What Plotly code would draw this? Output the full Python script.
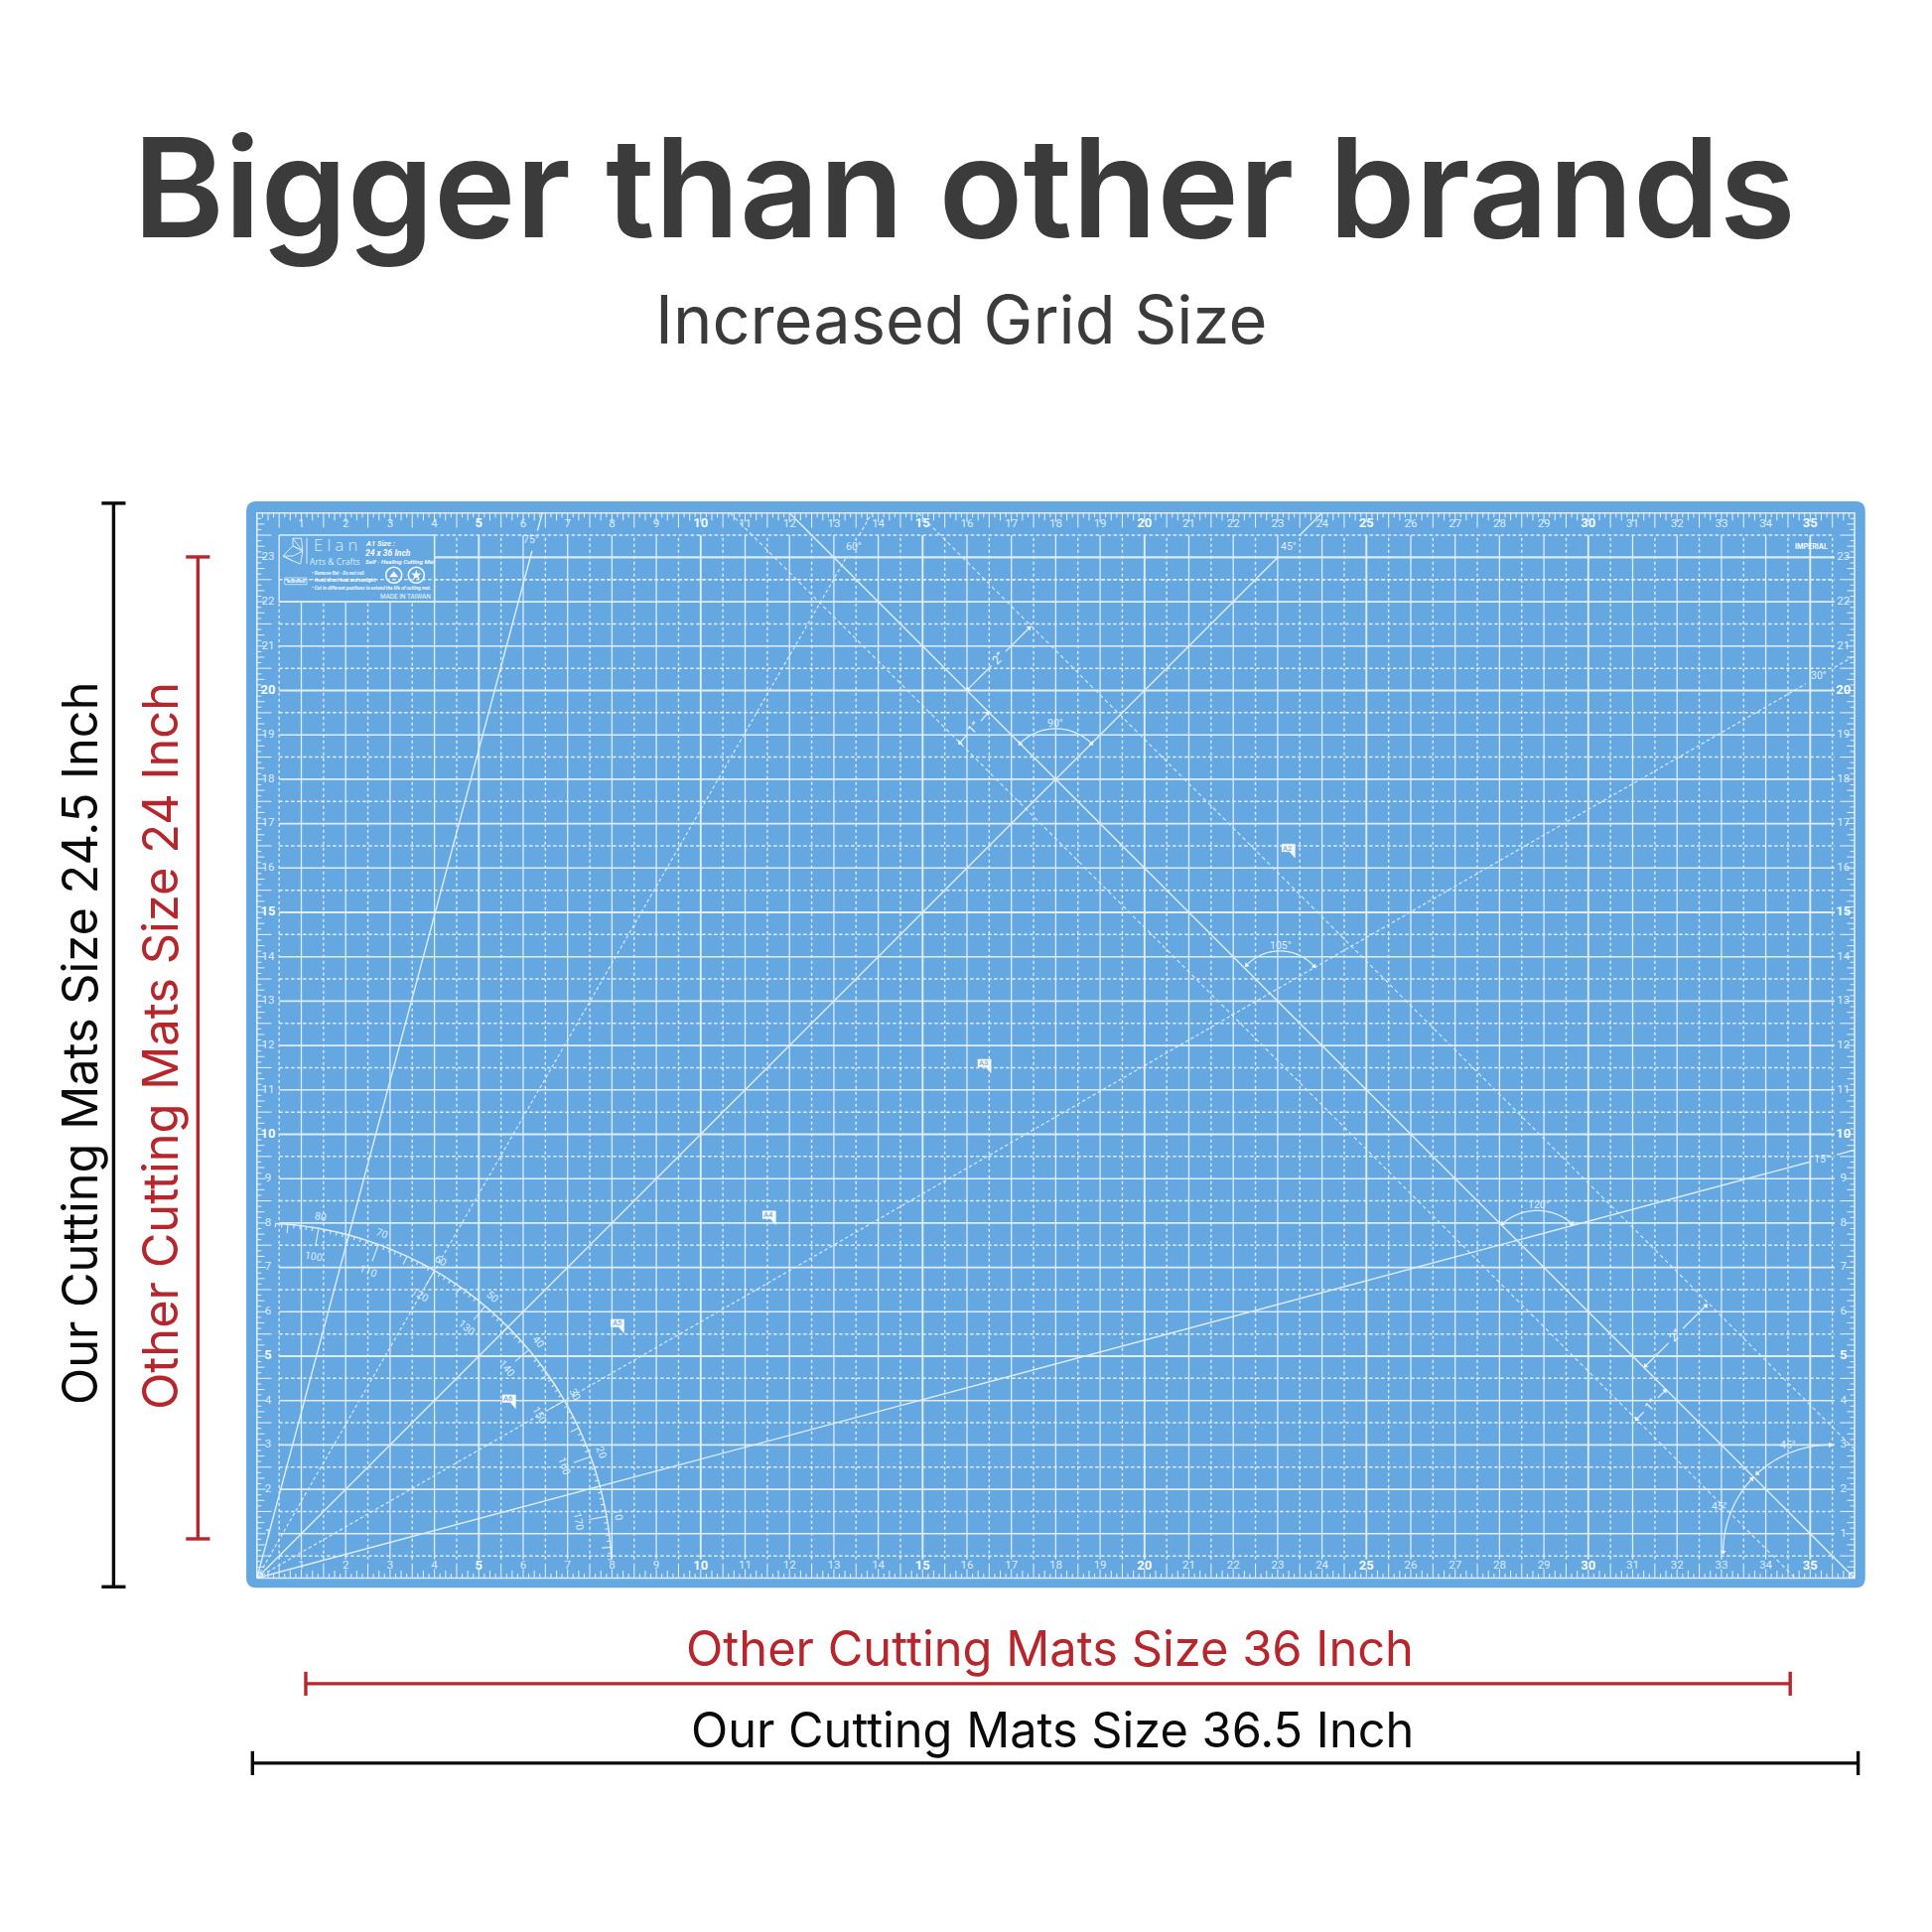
import math
import numpy as np
import plotly.graph_objects as go

# ---------- data (inches on the mat) ----------
mat_w = 36
mat_h = 24
inch_x = list(range(1, 36))
inch_y = list(range(1, 24))
half_x = [i + 0.5 for i in range(0, 36)]
half_y = [i + 0.5 for i in range(0, 24)]
bold_every = 5

ray_x = [[0, 6.2, 6.43], [0, 13.28, 13.86], [0, 23.0, 24.0], [0, 34.9, 36.0], [0, 35.0, 36.0]]
ray_y = [[0, 23.15, 24.0], [0, 23.0, 24.0], [0, 23.0, 24.0], [0, 20.15, 20.78], [0, 9.38, 9.65]]
ray_gap_end_x = [6.32, 13.57, 23.5, 35.55, 35.6]
ray_gap_end_y = [23.6, 23.5, 23.5, 20.52, 9.54]
ray_dashed = [False, True, False, True, False]
ray_labels = ["75°", "60°", "45°", "30°", "15°"]
ray_label_x = [6.19, 13.45, 23.25, 35.2, 35.27]
ray_label_y = [23.4, 23.25, 23.25, 20.34, 9.44]

anti_start_x = [12.0, 10.66, 14.9]
anti_start_y = [24, 24, 24]
anti_end_x = [36.0, 34.66, 36.0]
anti_end_y = [0, 0, 2.9]
anti_dashed = [False, True, True]

arc_cx = [18.0, 23.05, 28.85, 35.45, 35.45]
arc_cy = [18.0, 13.09, 7.09, 0.59, 0.59]
arc_r = [1.14, 1.04, 1.19, 2.41, 2.41]
arc_from = [45, 42, 49, 137, 90]
arc_to = [135, 136, 131, 180, 133]
angle_labels = ["90°", "105°", "120°", "45°", "45°"]
angle_label_x = [18.0, 23.07, 28.88, 32.95, 34.5]
angle_label_y = [19.27, 14.25, 8.42, 1.61, 2.99]

dim_x0 = [16.02, 15.84, 31.29, 31.09]
dim_y0 = [20.03, 18.82, 4.78, 3.58]
dim_x1 = [17.4, 16.47, 32.65, 31.73]
dim_y1 = [21.41, 19.49, 6.14, 4.22]
dim_labels = ["2”", "1”", "2”", "1”"]

paper_names = ["A2", "A3", "A4", "A5", "A6"]
paper_w = [23.39, 16.54, 11.69, 8.27, 5.83]
paper_h = [16.54, 11.69, 8.27, 5.83, 4.13]

proto_radius = 8
proto_degrees = list(range(3, 88))
proto_labels = [10, 20, 30, 40, 50, 60, 70, 80]

bird_x = [0.81, 1.0, 1.03, 0.81, 0.81, 1.03, 0.98, 0.81, 0.586, 0.81, 1.03, 0.81, 0.586, 0.81]
bird_y = [23.43, 23.43, 23.14, 23.26, 23.43, 23.14, 22.85, 22.92, 23.03, 23.26, 23.14, 23.03, 23.03, 22.92]

# dimension bars, in inches relative to the mat
black_v_x, black_v_y = [-3.23, -3.23], [-0.197, 24.22]
red_v_x, red_v_y = [-1.33, -1.33], [0.884, 23.01]
red_h_x, red_h_y = [1.10, 34.55], [-2.38, -2.38]
black_h_x, black_h_y = [-0.10, 36.08], [-4.17, -4.17]

# ---------- page mapping ----------
PPI = 44.7
X0, Y0 = 258.8, 1589.5
PAGE = 1946
def X(p): return (p - X0) / PPI
def Y(p): return (Y0 - p) / PPI

LINE = "#DDEDFB"
WHITE = "#F4FAFF"
MAT = "#65A7E1"
RED = "#B5272D"
BLACK = "#0A0A0A"
GREY = "#3B3B3B"
FONT = "Inter"
RULER_FONT = "Roboto"

fig = go.Figure()

def segs(x0s, y0s, x1s, y1s):
    xs, ys = [], []
    for a, b, c, d in zip(x0s, y0s, x1s, y1s):
        xs += [a, c, None]
        ys += [b, d, None]
    return xs, ys

def add_line(xs, ys, color=LINE, width=1.3, dash=None):
    fig.add_trace(go.Scatter(x=xs, y=ys, mode="lines", hoverinfo="skip",
                             line=dict(color=color, width=width, dash=dash, simplify=False)))

# --- frame ---
add_line([0, mat_w, mat_w, 0, 0], [0, 0, mat_h, mat_h, 0], width=1.6)

# --- logo block keeps the grid out of x<4, y>22 ---
def v_top(x): return 22 if x < 4 else 23.5
def h_start(y): return 4 if y > 22 else 0.5

thin_x = [x for x in inch_x if x % bold_every]
bold_x = [x for x in inch_x if not x % bold_every]
thin_y = [y for y in inch_y if y % bold_every]
bold_y = [y for y in inch_y if not y % bold_every]

xs, ys = segs(thin_x, [0.42] * len(thin_x), thin_x, [v_top(x) for x in thin_x])
add_line(xs, ys, width=1.3)
xs, ys = segs(bold_x, [0.42] * len(bold_x), bold_x, [v_top(x) for x in bold_x])
add_line(xs, ys, width=1.9)
xs, ys = segs([h_start(y) for y in thin_y], thin_y, [35.55] * len(thin_y), thin_y)
add_line(xs, ys, width=1.6)
xs, ys = segs([h_start(y) for y in bold_y], bold_y, [35.55] * len(bold_y), bold_y)
add_line(xs, ys, width=2.2)

xs, ys = segs(half_x, [0.42] * len(half_x), half_x, [v_top(x) for x in half_x])
add_line(xs, ys, width=1.4, dash="3px,3px")
hy = [y for y in half_y if y < 23]
xs, ys = segs([0.5] * len(hy), hy, [35.55] * len(hy), hy)
add_line(xs, ys, width=1.5, dash="3.5px,2.5px")
add_line([4, 35.55], [23.5, 23.5], width=1.5, dash="3.5px,2.5px")
add_line([4, 35.55], [22.5, 22.5], width=1.5, dash="3.5px,2.5px")

# --- logo box ---
add_line([0.5, 4, 4, 0.5, 0.5], [23.5, 23.5, 22, 22, 23.5], width=1.4)
add_line([4, 35.55], [23, 23], width=1.6)
add_line([1.123, 1.123], [22.85, 23.44], width=1)
add_line(bird_x, bird_y, width=1)

# --- ruler ticks ---
def tick_len(k):
    if k % 8 == 0: return 0.2
    if k % 4 == 0: return 0.33
    if k % 2 == 0: return 0.17
    return 0.1

tx, ty = [], []
for k in range(1, mat_w * 8):
    t = k / 8
    L = tick_len(k)
    tx += [t, t, None, t, t, None]
    ty += [0, L, None, mat_h, mat_h - L, None]
for k in range(1, mat_h * 8):
    t = k / 8
    L = tick_len(k)
    tx += [0, L, None, mat_w, mat_w - L, None]
    ty += [t, t, None, t, t, None]
add_line(tx, ty, width=1.1)

# --- ruler numbers ---
lab_x = inch_x + inch_x + [0.25] * len(inch_y) + [35.75] * len(inch_y)
lab_y = [0.27] * len(inch_x) + [23.75] * len(inch_x) + inch_y + inch_y
lab_t = [str(v) for v in inch_x + inch_x + inch_y + inch_y]
lab_b = [int(t) % bold_every == 0 for t in lab_t]
fig.add_trace(go.Scatter(
    x=lab_x, y=lab_y, text=lab_t, mode="text", hoverinfo="skip", textposition="middle center",
    textfont=dict(family=RULER_FONT, color=[WHITE if b else LINE for b in lab_b],
                  size=[13 if b else 11.5 for b in lab_b],
                  weight=[700 if b else 400 for b in lab_b])))

# --- rays from the origin ---
for rx, ry, gx, gy, d in zip(ray_x, ray_y, ray_gap_end_x, ray_gap_end_y, ray_dashed):
    xs = [rx[0], rx[1], None, gx, rx[2]]
    ys = [ry[0], ry[1], None, gy, ry[2]]
    add_line(xs, ys, width=1.1 if d else 1.4, dash="3.5px,2.5px" if d else None)

# --- anti-diagonals ---
for a, b, c, e, d in zip(anti_start_x, anti_start_y, anti_end_x, anti_end_y, anti_dashed):
    add_line([a, c], [b, e], width=1.1 if d else 1.5, dash="4px,3px" if d else None)

# --- arcs & arrows ---
arrow_x, arrow_y, arrow_a = [], [], []
for cx, cy, r, a0, a1 in zip(arc_cx, arc_cy, arc_r, arc_from, arc_to):
    th = np.radians(np.arange(a0, a1 + 1, 1.0))
    add_line((cx + r * np.cos(th)).tolist(), (cy + r * np.sin(th)).tolist(), width=1.3)
    arrow_x += [cx + r * math.cos(th[0]), cx + r * math.cos(th[-1])]
    arrow_y += [cy + r * math.sin(th[0]), cy + r * math.sin(th[-1])]
    arrow_a += [90 - (a0 - 90), 90 - (a1 + 90)]

annos = []
def note(text, x, y, size, color=LINE, family=RULER_FONT, weight=400, rot=0,
         xanchor="center", yanchor="middle", italic=False):
    annos.append(dict(text=text, x=x, y=y, xref="x", yref="y", showarrow=False, textangle=rot,
                      xanchor=xanchor, yanchor=yanchor, borderpad=0, align="center",
                      font=dict(family=family, size=size, color=color, weight=weight,
                                style="italic" if italic else "normal")))

for x0, y0, x1, y1, lab in zip(dim_x0, dim_y0, dim_x1, dim_y1, dim_labels):
    mx, my = (x0 + x1) / 2, (y0 + y1) / 2
    gap = 0.16
    add_line([x0, mx - gap, None, mx + gap, x1], [y0, my - gap, None, my + gap, y1], width=1.3)
    arrow_x += [x0, x1]
    arrow_y += [y0, y1]
    arrow_a += [225, 45]
    note(lab, mx, my, 12, rot=-45, color=WHITE)

fig.add_trace(go.Scatter(x=arrow_x, y=arrow_y, mode="markers", hoverinfo="skip",
                         marker=dict(symbol="triangle-up", size=5, color=WHITE, angle=arrow_a,
                                     line=dict(width=0))))

for t, x, y in zip(ray_labels + angle_labels, ray_label_x + angle_label_x, ray_label_y + angle_label_y):
    note(t, x, y, 10.5)

# --- protractor ---
th = np.radians(proto_degrees)
add_line((proto_radius * np.cos(th)).tolist(), (proto_radius * np.sin(th)).tolist(), width=1.5)
px_, py_ = [], []
for d in proto_degrees:
    L = 0.4 if d % 10 == 0 else 0.2 if d % 5 == 0 else 0.08
    c, s = math.cos(math.radians(d)), math.sin(math.radians(d))
    px_ += [proto_radius * c, (proto_radius - L) * c, None]
    py_ += [proto_radius * s, (proto_radius - L) * s, None]
add_line(px_, py_, width=1.1)
for d in proto_labels:
    c, s = math.cos(math.radians(d)), math.sin(math.radians(d))
    note(str(d), 8.27 * c, 8.27 * s, 10.5, rot=90 - d)
    note(str(180 - d), 7.36 * c, 7.36 * s, 10.5, rot=90 - d)

# --- paper size pennants ---
for name, w, h in zip(paper_names, paper_w, paper_h):
    fig.add_trace(go.Scatter(x=[w - 0.3, w, w, w - 0.12, w - 0.3], y=[h, h, h - 0.31, h - 0.17, h - 0.17],
                             mode="lines", fill="toself", fillcolor="#F6FBFF", hoverinfo="skip",
                             line=dict(color="#F6FBFF", width=0.5)))
    note(name, w - 0.16, h - 0.09, 7.5, color="#8FB4D8", weight=700)

# --- corner marks ---
fig.add_trace(go.Scatter(x=[0.06, 35.94], y=[0.06, 0.06], mode="markers", hoverinfo="skip",
                         marker=dict(symbol="circle-open", size=5, color=WHITE, line=dict(width=1))))

# --- logo text ---
note("E l a n", X(338), Y(548.5), 16.5, color=LINE, family="Open Sans", weight=300)
note("Arts &amp; Crafts", X(337), Y(565.5), 8.6, color=LINE, family="Open Sans")
note("A1 Size :", X(366.7), Y(547.5), 7.5, color=WHITE, weight=700, xanchor="left", italic=True)
note("24 x 36 Inch", X(366.7), Y(556.5), 8.5, color=WHITE, weight=700, xanchor="left", italic=True)
note("Self - Healing Cutting Mat", X(366.7), Y(566), 6.2, color=WHITE, weight=700, xanchor="left", italic=True)
note("• Remove flat - Do not roll.", X(312.7), Y(577), 4.7, color=WHITE, weight=700, xanchor="left", italic=True)
note("• Avoid direct heat and sunlight.", X(312.7), Y(584.7), 4.7, color=WHITE, weight=700, xanchor="left", italic=True)
note("• Cut in different positions to extend the life of cutting mat.", X(312.7), Y(592.3), 4.7,
     color=WHITE, weight=700, xanchor="left", italic=True)
note("MADE IN TAIWAN", X(435), Y(601), 6.4, xanchor="right", color=WHITE)
note("WARNING", X(298), Y(585.3), 4, color=WHITE, weight=700)
add_line([X(286.7), X(309), X(309), X(286.7), X(286.7)], [Y(582), Y(582), Y(588.7), Y(588.7), Y(582)], width=0.8)
fig.add_trace(go.Scatter(x=[X(396.7), X(419.3)], y=[Y(579.3), Y(579.3)], mode="markers", hoverinfo="skip",
                         marker=dict(symbol="circle-open", size=16, color=WHITE, line=dict(width=1.6))))
fig.add_trace(go.Scatter(x=[X(396.7), X(419.3)], y=[Y(579.3), Y(579.3)], mode="markers", hoverinfo="skip",
                         marker=dict(symbol=["triangle-up", "star"], size=8, color=WHITE)))
note("IMPERIAL", X(1824), Y(550), 7, color=WHITE, weight=700, family=FONT)

# --- dimension bars ---
CAP = 0.27
for bx, by, col in ((black_v_x, black_v_y, BLACK), (red_v_x, red_v_y, RED),
                    (red_h_x, red_h_y, RED), (black_h_x, black_h_y, BLACK)):
    add_line(bx, by, color=col, width=3.4)
    if bx[0] == bx[1]:
        add_line([bx[0] - CAP, bx[0] + CAP, None, bx[0] - CAP, bx[0] + CAP],
                 [by[0], by[0], None, by[1], by[1]], color=col, width=3.4)
    else:
        add_line([bx[0], bx[0], None, bx[1], bx[1]],
                 [by[0] - CAP, by[0] + CAP, None, by[0] - CAP, by[0] + CAP], color=col, width=3.4)

# --- page text ---
note("Bigger than other brands", X(971), Y(188), 139.5, color=GREY, family=FONT, weight=600)
note("Increased Grid Size", X(968), Y(321), 66.8, color=GREY, family=FONT)
note("Other Cutting Mats Size 36 Inch", X(1057), Y(1660.5), 48.8, color=RED, family=FONT)
note("Our Cutting Mats Size 36.5 Inch", X(1060), Y(1742), 48.7, color=BLACK, family=FONT)
note("Our Cutting Mats Size 24.5 Inch", X(80), Y(1051), 48.7, color=BLACK, family=FONT, rot=-90)
note("Other Cutting Mats Size 24 Inch", X(161), Y(1054), 48.8, color=RED, family=FONT, rot=-90)

# --- mat ---
r = 0.22
L, R, B, T = -0.24, 36.24, -0.22, 24.26
mat_path = (f"M {L+r},{B} L {R-r},{B} Q {R},{B} {R},{B+r} L {R},{T-r} Q {R},{T} {R-r},{T} "
            f"L {L+r},{T} Q {L},{T} {L},{T-r} L {L},{B+r} Q {L},{B} {L+r},{B} Z")

fig.update_layout(
    width=PAGE, height=PAGE, autosize=False, showlegend=False, hovermode=False,
    margin=dict(l=0, r=0, t=0, b=0, pad=0),
    paper_bgcolor="white", plot_bgcolor="white",
    xaxis=dict(range=[X(0), X(PAGE)], visible=False, fixedrange=True),
    yaxis=dict(range=[Y(PAGE), Y(0)], visible=False, fixedrange=True),
    shapes=[dict(type="path", path=mat_path, xref="x", yref="y", fillcolor=MAT,
                 line=dict(width=0), layer="below")],
    annotations=annos,
)
fig.write_html("out.html", config={"displayModeBar": False, "responsive": False},
               post_script="document.body.style.margin='0';document.documentElement.style.overflow='hidden';")
